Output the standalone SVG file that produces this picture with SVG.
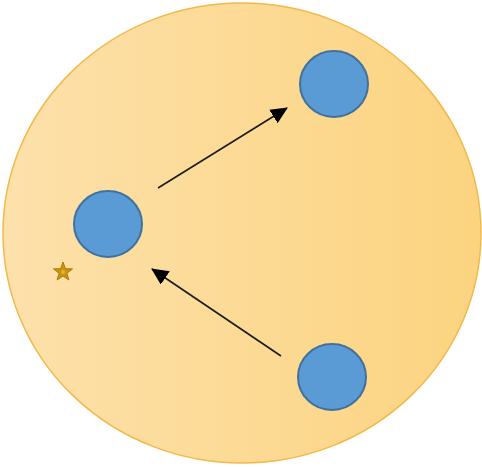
<svg xmlns="http://www.w3.org/2000/svg" width="482" height="467" viewBox="0 0 482 467">
  <defs>
    <linearGradient id="bg" x1="0" y1="0" x2="1" y2="0">
      <stop offset="0" stop-color="#fde1ab"/>
      <stop offset="1" stop-color="#fcd480"/>
    </linearGradient>
    <marker id="arrow" markerWidth="17" markerHeight="16" refX="16" refY="8" orient="auto" markerUnits="userSpaceOnUse">
      <path d="M0,0 L17,8 L0,16 Z" fill="#000"/>
    </marker>
  </defs>
  <style>
    .node { fill: #5b9bd5; stroke: #41719c; stroke-width: 2; }
    .edge { stroke: #1a1a1a; stroke-width: 1.6; fill: none; marker-end: url(#arrow); }
  </style>
  <rect width="482" height="467" fill="#ffffff"/>
  <g id="container">
    <ellipse cx="242" cy="233" rx="239" ry="230" fill="url(#bg)" stroke="#f2b94a" stroke-width="1.5"/>
  </g>
  <g id="star">
    <polygon points="63,262 65.4,268.7 72.5,268.9 66.9,273.2 68.9,280 63,276 57.1,280 59.1,273.2 53.5,268.9 60.6,268.7" fill="#c99510" stroke="#a87a0a" stroke-width="1"/>
    <circle cx="63" cy="272" r="2" fill="#e8b420"/>
  </g>
  <g id="connectors">
    <line class="edge" x1="158" y1="188" x2="287" y2="108"/>
    <line class="edge" x1="281" y1="356" x2="152" y2="269"/>
  </g>
  <g id="node-top"><ellipse class="node" cx="334" cy="84" rx="34" ry="33"/></g>
  <g id="node-left"><ellipse class="node" cx="108" cy="224" rx="34" ry="33"/></g>
  <g id="node-bottom"><ellipse class="node" cx="332" cy="377" rx="34" ry="33"/></g>
</svg>
